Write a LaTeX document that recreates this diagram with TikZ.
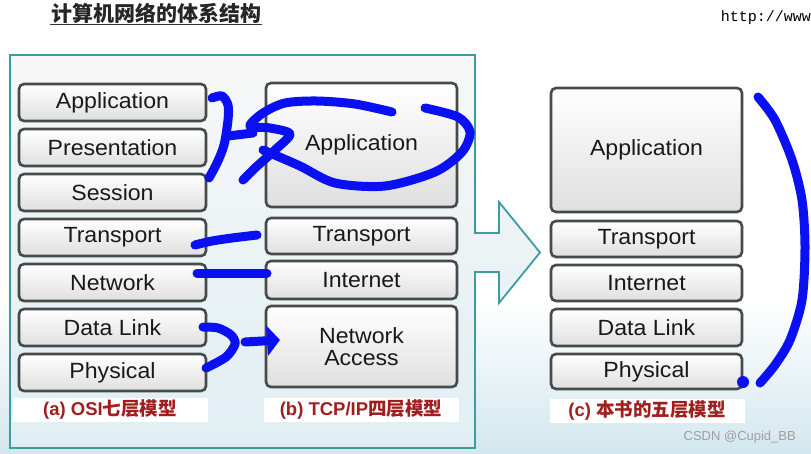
\documentclass[tikz,border=0pt]{standalone}
\usepackage{fontspec}
\setmainfont{Liberation Sans}
\newfontfamily\boxfont[FakeStretch=1.05]{Liberation Sans}
\newfontfamily\cjk{Noto Sans CJK SC}
\newfontfamily\urlfont{Liberation Mono}
\usepackage{xcolor}
\usetikzlibrary{arrows.meta}
\usetikzlibrary{positioning}
\definecolor{framecol}{HTML}{3E9C9E}
\definecolor{boxline}{HTML}{454B4B}
\definecolor{labred}{HTML}{A11E1E}
\definecolor{penblue}{HTML}{0A10F2}
\definecolor{slidebg}{HTML}{D3E7EE}

\begin{document}
\begin{tikzpicture}[x=1pt,y=-1pt]
  \tikzset{layer/.style = {shape=rectangle,draw=boxline,line width=2.6pt,rounded corners=5pt,top color=white,bottom color=gray!25,inner sep=0pt,font=\boxfont\fontsize{22}{22}\selectfont,text=black!90,align=center}}
  \tikzset{osilayer/.style = {layer,minimum width=187pt,minimum height=37pt}}
  \tikzset{caption/.style = {fill=white,text=labred,font=\fontsize{18.5}{20}\selectfont\bfseries,inner sep=0pt,minimum width=195pt,minimum height=24pt}}
  \tikzset{pen/.style = {draw=penblue,line width=9pt,line cap=round,line join=round}}

  \useasboundingbox (0,0) rectangle (811,453);
  \fill[white] (0,0) rectangle (811,453);
  \shade[top color=white,bottom color=slidebg] (0,300) rectangle (811,453);

  % title and page header
  \node[font=\cjk\fontsize{21}{23}\selectfont\bfseries,text=black!85,inner sep=1pt] (title) at (156,13) {计算机网络的体系结构};
  \draw[line width=1.2pt,black!80] (title.south west) -- (title.south east);
  \node[font=\urlfont\fontsize{15}{16}\selectfont,anchor=east,inner sep=0pt] (url) at (811,18) {http://www};

  % frame with the big arrow
  \draw[framecol,line width=1.8pt,top color=gray!6,bottom color=slidebg!70]
    (10,55) -- (475,55) -- (475,233) -- (499,233) -- (499,202) -- (540,252.5)
    -- (499,303) -- (499,272) -- (475,272) -- (475,448) -- (10,448) -- cycle;

  % (a) OSI
  \node[osilayer] (aApp) at (112.5,102.5) {Application};
  \node[osilayer] (aPre) at (112.5,147.5) {Presentation};
  \node[osilayer] (aSes) at (112.5,192.5) {Session};
  \node[osilayer] (aTra) at (112.5,237.5) {Transport};
  \node[osilayer] (aNet) at (112.5,282.5) {Network};
  \node[osilayer] (aDat) at (112.5,327.5) {Data Link};
  \node[osilayer] (aPhy) at (112.5,372.5) {Physical};
  \node[caption] (aCap) at (110,410) {(a) OSI{\cjk 七层模型}};

  % (b) TCP/IP
  \node[layer,minimum width=191pt,minimum height=124pt] (bApp) at (361.5,145) {\raisebox{-4pt}{Application}};
  \node[layer,minimum width=191pt,minimum height=36pt] (bTra) at (361.5,236) {Transport};
  \node[layer,minimum width=191pt,minimum height=38pt] (bInt) at (361.5,280) {Internet};
  \node[layer,minimum width=191pt,minimum height=81pt] (bAcc) at (361.5,346.5) {Network\\Access};
  \node[caption] (bCap) at (361,410) {(b) TCP/IP{\cjk 四层模型}};

  % (c) five layers
  \node[layer,minimum width=191pt,minimum height=124pt] (cApp) at (646.5,150) {\raisebox{-3pt}{Application}};
  \node[layer,minimum width=191pt,minimum height=36pt] (cTra) at (646.5,239) {Transport};
  \node[layer,minimum width=191pt,minimum height=36pt] (cInt) at (646.5,283) {Internet};
  \node[layer,minimum width=191pt,minimum height=37pt] (cDat) at (646.5,327.5) {Data Link};
  \node[layer,minimum width=191pt,minimum height=35pt] (cPhy) at (646.5,371.5) {Physical};
  \node[caption] (cCap) at (647,411) {(c) {\cjk 本书的五层模型}};

  \node[text=gray!75,font=\fontsize{13}{14}\selectfont,anchor=east,inner sep=0pt] (mark) at (796,437) {CSDN @Cupid\_BB};

  % hand-drawn marks
  \draw[pen] plot[smooth] coordinates {(212,98) (222,96) (228,105) (228,120) (224,145) (217,163) (209,178)};
  \draw[pen] (228,136) -- (253,133);
  \draw[pen] plot[smooth] coordinates {(392,112) (355,104) (317,101) (285,103) (263,113) (250,126) (270,128) (290,134) (275,150) (255,168) (243,180)};
  \draw[pen] plot[smooth] coordinates {(263,150) (300,166) (335,183) (385,186) (435,172) (462,152) (470,132) (458,117) (425,108)};
  \draw[pen] plot[smooth] coordinates {(195,245) (212,241) (232,238) (257,235)};
  \draw[pen] (197,273) -- (267,273);
  \draw[pen] plot[smooth] coordinates {(203,327) (218,328) (231,335) (235,344) (226,357) (206,368)};
  \draw[pen,-{Triangle[length=13pt 0,width=30pt 0]}] (245,342) -- (280,340);
  \draw[pen] plot[smooth] coordinates {(758,97) (775,120) (792,160) (802,200) (805,247) (802,300) (790,340) (775,365) (760,383)};
  \fill[penblue] (743,382) circle (6);

\end{tikzpicture}
\end{document}
